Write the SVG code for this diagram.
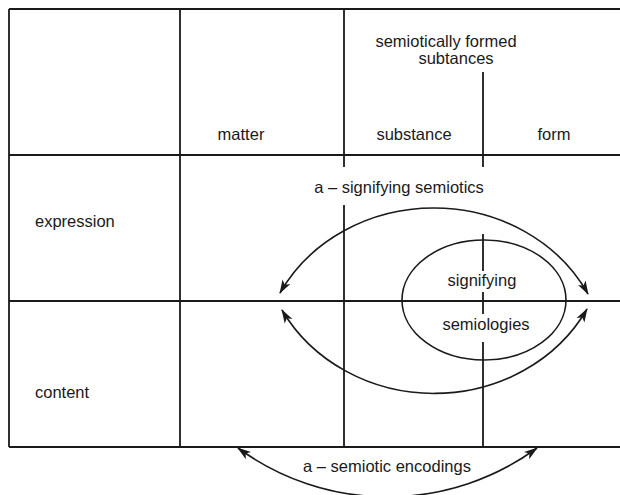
<svg xmlns="http://www.w3.org/2000/svg" width="620" height="495" viewBox="0 0 620 495">
<style>
  .grid { stroke: #1a1a1a; stroke-width: 1.8; fill: none; }
  .t { font-family: "Liberation Sans", Arial, sans-serif; font-size: 16.5px; fill: #1a1a1a; }
  .mid { text-anchor: middle; }
  .arc { stroke: #1a1a1a; stroke-width: 1.6; fill: none; marker-start: url(#ah); marker-end: url(#ah); }
</style>
<defs>
  <marker id="ah" viewBox="0 0 14 10" refX="13" refY="5" markerWidth="14" markerHeight="10" markerUnits="userSpaceOnUse" orient="auto-start-reverse">
    <path d="M0,0.5 L14,5 L0,9.5 L3.5,5 Z" fill="#1a1a1a"/>
  </marker>
</defs>
<rect width="620" height="495" fill="#ffffff"/>
<g id="grid" class="grid">
  <path d="M9,9 H620 M9,155 H620 M9,301 H620 M9,447 H620"/>
  <path d="M9,9 V447 M180,9 V447"/>
  <path d="M344,9 V167 M344,205 V447"/>
  <path d="M483,72 V167 M483,234 V271 M483,292 V314 M483,342 V447"/>
</g>
<g id="headers">
  <text class="t mid" x="446" y="47">semiotically formed</text>
  <text class="t mid" x="456" y="64">subtances</text>
  <text class="t mid" x="241" y="140">matter</text>
  <text class="t mid" x="414" y="140">substance</text>
  <text class="t mid" x="554" y="140">form</text>
  <text class="t" x="35" y="227">expression</text>
  <text class="t" x="35" y="398">content</text>
</g>
<g id="signifying-semiologies">
  <ellipse cx="484" cy="300" rx="82" ry="60" fill="none" stroke="#1a1a1a" stroke-width="1.6"/>
  <text class="t mid" x="482" y="286">signifying</text>
  <text class="t mid" x="486" y="330">semiologies</text>
</g>
<g id="labels">
  <text class="t mid" x="399" y="193">a – signifying semiotics</text>
  <text class="t mid" x="387" y="472">a – semiotic encodings</text>
</g>
<g id="connectors">
  <path class="arc" d="M280,293 A173,157 0 0 1 588,294"/>
  <path class="arc" d="M282,310 A173,159 0 0 0 587,309"/>
  <path class="arc" d="M238,448 A253,253 0 0 0 537,448"/>
</g>
</svg>
